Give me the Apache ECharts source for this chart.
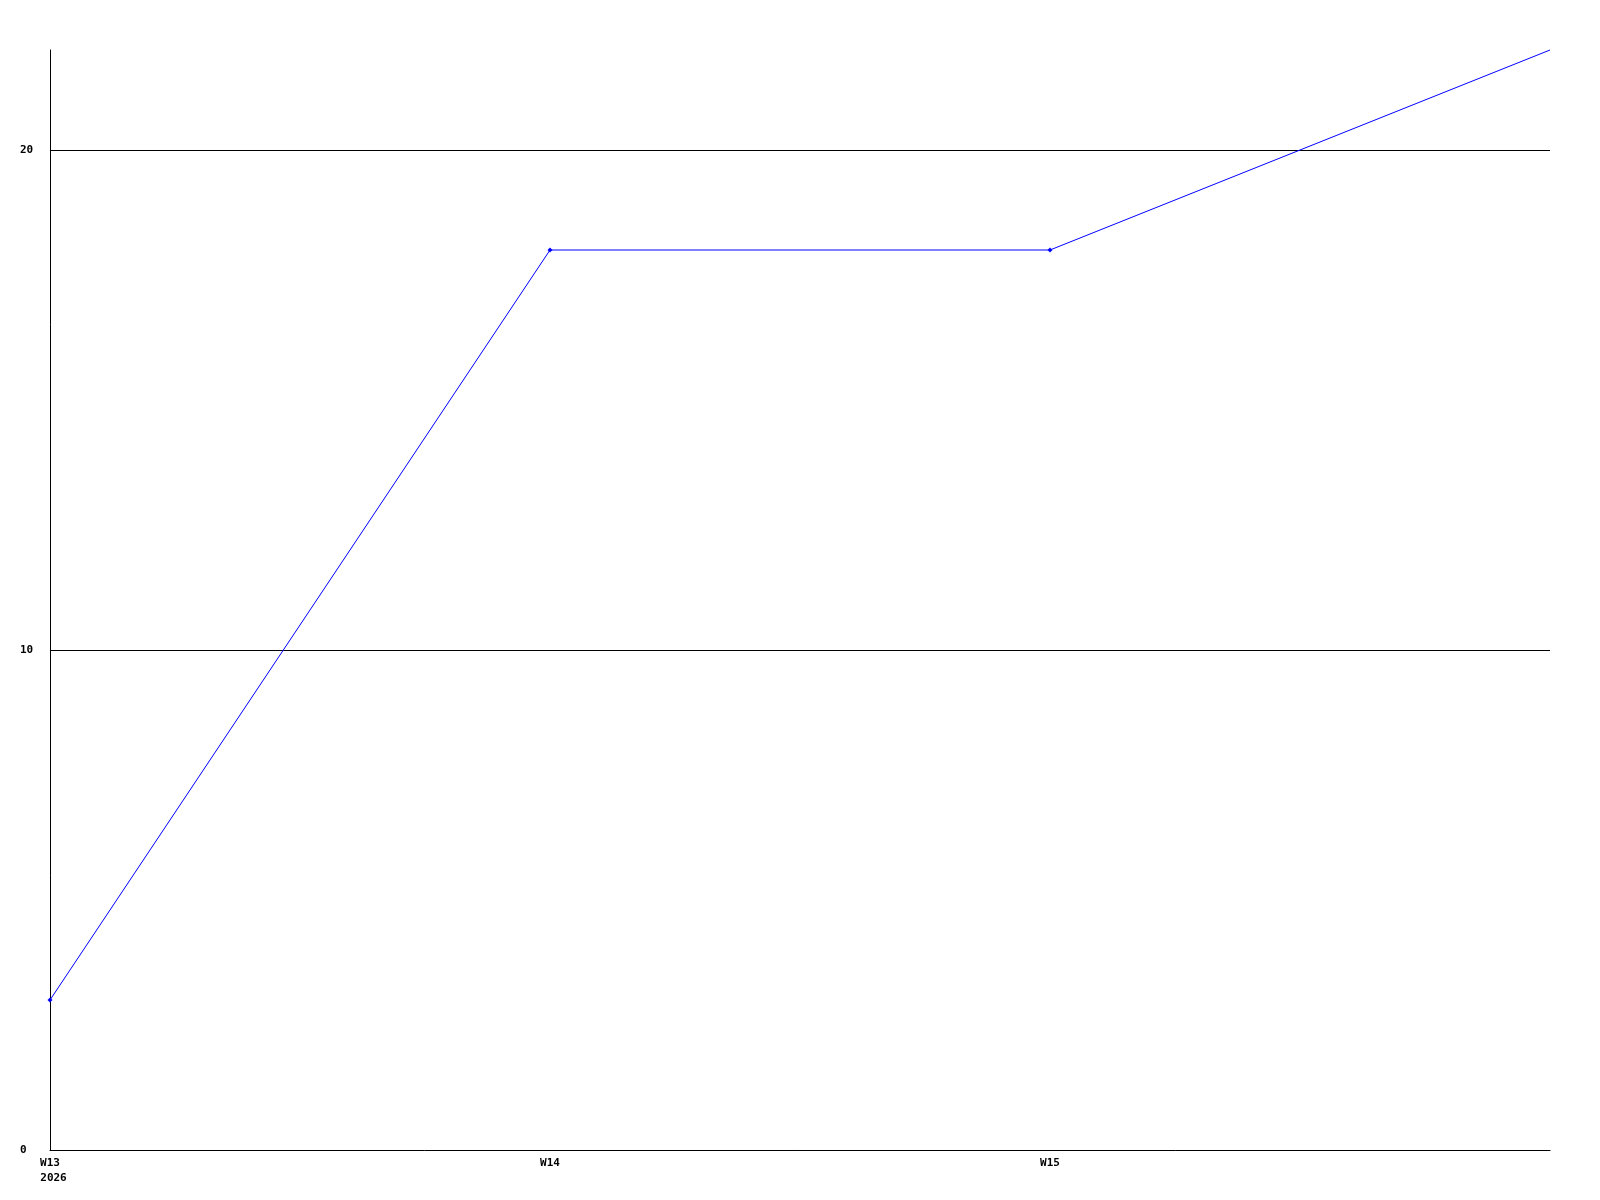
<!DOCTYPE html>
<html>
<head>
<meta charset="utf-8">
<script src="https://cdn.jsdelivr.net/npm/echarts@6/dist/echarts.min.js"></script>
<style>html,body{margin:0;padding:0;background:#fff;}#c{width:1600px;height:1200px;}</style>
</head>
<body>
<div id="c"></div>
<script>
const categories = ['W13', 'W14', 'W15', 'W16'];
const tickLabels = ['W13\n2026', 'W14', 'W15', ''];
const values = [3, 18, 18, 22];
const yTicks = [0, 10, 20];

const chart = echarts.init(document.getElementById('c'));
const font = 'DejaVu Sans Mono';
chart.setOption({
  backgroundColor: '#ffffff',
  animation: false,
  grid: { left: 50, right: 50, top: 50, bottom: 50 },
  xAxis: {
    type: 'category',
    data: categories,
    boundaryGap: false,
    axisLine: { lineStyle: { color: '#000', width: 1 } },
    axisTick: { show: false },
    splitLine: { show: false },
    axisLabel: {
      margin: 6,
      color: '#000',
      fontFamily: font,
      fontWeight: 'bold',
      fontSize: 11,
      lineHeight: 15,
      interval: 0,
      formatter: function (v, i) {
        const t = tickLabels[i];
        if (t.indexOf('\n') >= 0) {
          const parts = t.split('\n');
          return '{a|' + parts[0] + '}\n{b|' + parts[1] + '}';
        }
        return t;
      },
      rich: {
        a: { fontFamily: font, fontWeight: 'bold', fontSize: 11, color: '#000', lineHeight: 15 },
        b: { fontFamily: font, fontWeight: 'bold', fontSize: 11, color: '#000', lineHeight: 15, padding: [0, 0, 0, 7] }
      }
    }
  },
  yAxis: {
    type: 'value',
    min: 0,
    max: 22,
    interval: 10,
    axisLine: { show: true, lineStyle: { color: '#000', width: 1 } },
    axisTick: { show: false },
    splitLine: { show: true, showMinLine: false, showMaxLine: false, lineStyle: { color: '#000', width: 1 } },
    axisLabel: {
      margin: 30,
      align: 'left',
      color: '#000',
      fontFamily: font,
      fontWeight: 'bold',
      fontSize: 11,
      showMaxLabel: false,
      formatter: function (v) { return yTicks.indexOf(v) >= 0 ? String(v) : ''; }
    }
  },
  series: [{
    type: 'line',
    data: values.map(function (v, i) {
      return i === values.length - 1 ? { value: v, symbol: 'none' } : v;
    }),
    symbol: 'diamond',
    symbolSize: 5,
    lineStyle: { color: '#0000ff', width: 1 },
    itemStyle: { color: '#0000ff' },
    clip: false
  }]
});
</script>
</body>
</html>
